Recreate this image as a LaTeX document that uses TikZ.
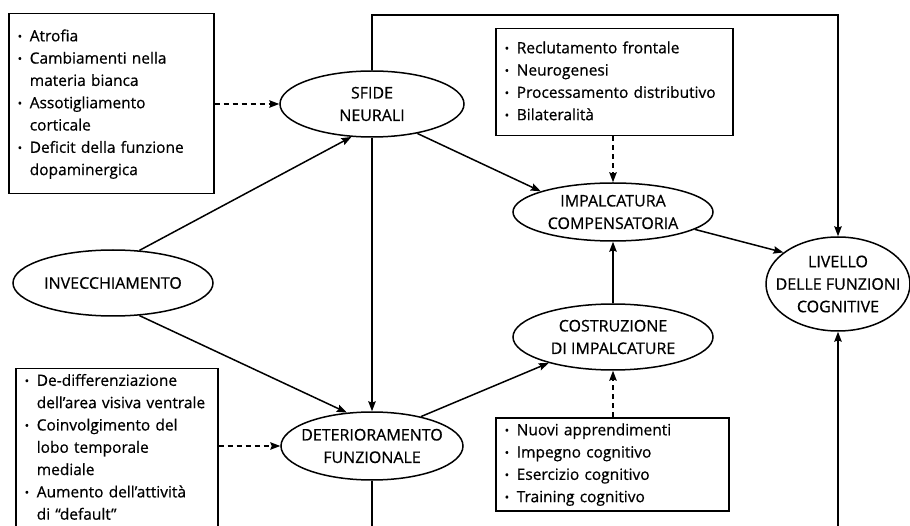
\documentclass[tikz,border=0pt]{standalone}
\usepackage{fontspec}
\setmainfont{Open Sans}[FakeBold=0.6]
\usetikzlibrary{arrows.meta,shapes.geometric}
\newcommand{\bl}{\makebox[12pt][l]{\raisebox{0.1ex}{\scalebox{0.75}{\textbullet}}}}
\begin{document}
\begin{tikzpicture}[x=1pt,y=-1pt,
  font=\fontsize{15.5}{22.3}\selectfont,
  ell/.style={draw,ellipse,line width=1.5pt,inner xsep=-200pt,inner ysep=-100pt,
    align=center,font=\fontsize{16}{22.5}\selectfont},
  lst/.style={draw,rectangle,line width=1.5pt,anchor=north west,inner xsep=9pt,
    inner ysep=1.5pt,align=left},
  ln/.style={line width=1.5pt},
  arr/.style={ln,-{Stealth[length=10pt,width=7.5pt,inset=1.5pt]}},
  darr/.style={arr,dash pattern=on 5pt off 4pt}]
\clip (0,0) rectangle (910,526);
\fill[white] (0,0) rectangle (910,526);

% boxes
\node[lst,text width=187pt,minimum height=180pt] (tl) at (8,13) {%
\begin{tabular}{@{}l@{}l@{}}
\bl & Atrofia\\
\bl & Cambiamenti nella\\
 & materia bianca\\
\bl & Assotigliamento\\
 & corticale\\
\bl & Deficit della funzione\\
 & dopaminergica
\end{tabular}};

\node[lst,text width=219pt,minimum height=107pt] (tm) at (495,28) {%
\begin{tabular}{@{}l@{}l@{}}
\bl & Reclutamento frontale\\
\bl & Neurogenesi\\
\bl & Processamento distributivo\\
\bl & Bilateralità
\end{tabular}};

\node[lst,text width=215pt,minimum height=93pt] (bb) at (495,417) {%
\begin{tabular}{@{}l@{}l@{}}
\bl & Nuovi apprendimenti\\
\bl & Impegno cognitivo\\
\bl & Esercizio cognitivo\\
\bl & Training cognitivo
\end{tabular}};

\node[lst,text width=184pt] (bl) at (15,368) {%
\begin{tabular}{@{}l@{}l@{}}
\bl & De-differenziazione\\
 & dell’area visiva ventrale\\
\bl & Coinvolgimento del\\
 & lobo temporale\\
 & mediale\\
\bl & Aumento dell’attività\\
 & di “default”\\
 & \\
\end{tabular}};

% ellipses
\node[ell,minimum width=184pt,minimum height=66pt] (sf) at (372,104) {SFIDE\\NEURALI};
\node[ell,minimum width=200pt,minimum height=66pt] (inv) at (113,283) {INVECCHIAMENTO};
\node[ell,minimum width=182pt,minimum height=68pt] (det) at (372,446) {DETERIORAMENTO\\FUNZIONALE};
\node[ell,minimum width=200pt,minimum height=58pt] (imp) at (613,212) {IMPALCATURA\\COMPENSATORIA};
\node[ell,minimum width=200pt,minimum height=66pt] (cost) at (613,337) {COSTRUZIONE\\DI IMPALCATURE};
\node[ell,minimum width=144pt,minimum height=94pt] (liv) at (838,284) {LIVELLO\\DELLE FUNZIONI\\COGNITIVE};

\coordinate (topy) at (0,15);
\coordinate (boty) at (0,540);

% connectors
\draw[darr] (sf.west -| tl.east) -- (sf.west);
\draw[darr] (det.west -| bl.east) -- (det.west);
\draw[darr] (imp.north |- tm.south) -- (imp.north);
\draw[darr] (cost.south |- bb.north) -- (cost.south);
\draw[arr] (inv.51) -- (sf.238);
\draw[arr] (inv.-51) -- (det.127);
\draw[arr] (sf.south) -- (det.north);
\draw[arr] (sf.-33) -- (imp.164);
\draw[arr] (det.31) -- (cost.202);
\draw[arr] (cost.north) -- (imp.south);
\draw[arr] (imp.-12) -- (liv.150);
\draw[arr] (sf.north) -- (sf.north |- topy) -- (liv.north |- topy) -- (liv.north);
\draw[ln] (det.south) -- (det.south |- boty);
\draw[arr] (liv.south |- boty) -- (liv.south);
\end{tikzpicture}
\end{document}
